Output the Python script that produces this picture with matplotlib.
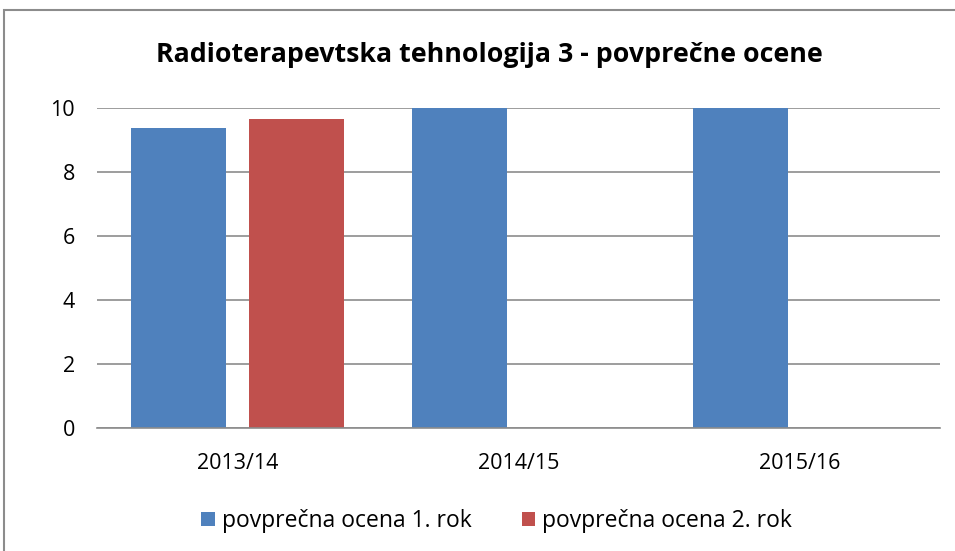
import matplotlib.pyplot as plt
import numpy as np
from matplotlib.patches import Rectangle

# Podatki z grafa
leta = ["2013/14", "2014/15", "2015/16"]
ocena_1_rok = [9.38, 10.0, 10.0]
ocena_2_rok = [9.66, np.nan, np.nan]

plt.rcParams['font.family'] = ['Open Sans', 'DejaVu Sans']

fig = plt.figure(figsize=(9.55, 5.51), dpi=100)
ax = fig.add_axes([97 / 955, 1 - 428 / 551, 843 / 955, 320 / 551])

x = np.arange(len(leta))
sirina = 0.338
odmik = 0.209
ax.bar(x - odmik, ocena_1_rok, sirina, color='#4f81bd', label='povprečna ocena 1. rok')
ax.bar(x + odmik, ocena_2_rok, sirina, color='#c0504d', label='povprečna ocena 2. rok')

ax.set_xlim(-0.5, len(leta) - 0.5)
ax.set_ylim(0, 10)
ax.set_yticks(np.arange(0, 11, 2))
ax.set_xticks(x)
ax.set_xticklabels(leta)
ax.tick_params(axis='both', labelsize=15.5, length=0, colors='black')
ax.tick_params(axis='y', pad=16)
ax.tick_params(axis='x', pad=18)

ax.grid(axis='y', color='#8c8c8c', linewidth=1.2)
ax.set_axisbelow(True)
for s in ['top', 'right', 'left']:
    ax.spines[s].set_visible(False)
ax.spines['bottom'].set_color('#8c8c8c')
ax.spines['bottom'].set_linewidth(1.2)

fig.text(0.512, 1 - 55 / 551, "Radioterapevtska tehnologija 3 - povprečne ocene",
         ha='center', va='center', fontsize=19.3, fontweight='bold')

fig.legend(loc='center', bbox_to_anchor=(0.52, 1 - 521 / 551), ncol=2, frameon=False,
           fontsize=16.5, handlelength=0.6, handleheight=0.6, handletextpad=0.3,
           columnspacing=2.2)

# okvir okoli grafa
fig.patches.append(Rectangle((4 / 955, -0.1), 1.2, 1 - 10 / 551 + 0.1,
                             transform=fig.transFigure, fill=False,
                             edgecolor='#8c8c8c', linewidth=1.5))

fig.savefig('out.png', dpi=100)
